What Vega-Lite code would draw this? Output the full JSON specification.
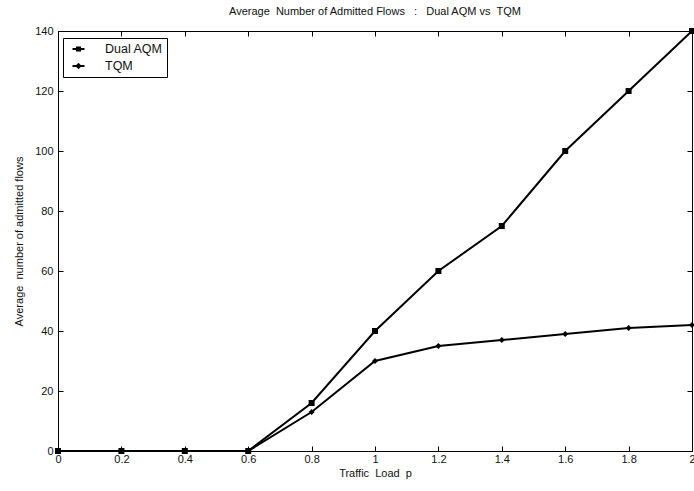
{
  "$schema": "https://vega.github.io/schema/vega-lite/v6.json",
  "width": 634,
  "height": 420,
  "autosize": {"type": "none"},
  "padding": {"left": 58, "top": 31, "right": 2, "bottom": 40},
  "background": "white",
  "title": {
    "text": "Average\u00a0\u00a0Number of Admitted Flows\u00a0\u00a0\u00a0:\u00a0\u00a0\u00a0Dual AQM vs\u00a0\u00a0TQM",
    "font": "Liberation Sans",
    "fontSize": 11,
    "fontWeight": "normal",
    "color": "#111",
    "offset": 8,
    "anchor": "middle"
  },
  "config": {
    "view": {"stroke": "black", "strokeWidth": 1},
    "axis": {
      "grid": false,
      "domain": false,
      "ticks": true,
      "tickColor": "black",
      "tickSize": -5,
      "labelFont": "Liberation Sans",
      "labelFontSize": 11,
      "labelColor": "#111",
      "titleFont": "Liberation Sans",
      "titleFontSize": 11,
      "titleFontWeight": "normal",
      "titleColor": "#111"
    }
  },
  "data": {
    "values": [
      {"p": 0, "value": 0, "series": "Dual AQM"},
      {"p": 0.2, "value": 0, "series": "Dual AQM"},
      {"p": 0.4, "value": 0, "series": "Dual AQM"},
      {"p": 0.6, "value": 0, "series": "Dual AQM"},
      {"p": 0.8, "value": 16, "series": "Dual AQM"},
      {"p": 1.0, "value": 40, "series": "Dual AQM"},
      {"p": 1.2, "value": 60, "series": "Dual AQM"},
      {"p": 1.4, "value": 75, "series": "Dual AQM"},
      {"p": 1.6, "value": 100, "series": "Dual AQM"},
      {"p": 1.8, "value": 120, "series": "Dual AQM"},
      {"p": 2.0, "value": 140, "series": "Dual AQM"},
      {"p": 0, "value": 0, "series": "TQM"},
      {"p": 0.2, "value": 0, "series": "TQM"},
      {"p": 0.4, "value": 0, "series": "TQM"},
      {"p": 0.6, "value": 0, "series": "TQM"},
      {"p": 0.8, "value": 13, "series": "TQM"},
      {"p": 1.0, "value": 30, "series": "TQM"},
      {"p": 1.2, "value": 35, "series": "TQM"},
      {"p": 1.4, "value": 37, "series": "TQM"},
      {"p": 1.6, "value": 39, "series": "TQM"},
      {"p": 1.8, "value": 41, "series": "TQM"},
      {"p": 2.0, "value": 42, "series": "TQM"}
    ]
  },
  "resolve": {"axis": {"x": "independent", "y": "independent"}, "scale": {"shape": "independent"}},
  "layer": [
    {
      "mark": {"type": "line", "color": "black", "strokeWidth": 2, "clip": false},
      "encoding": {
        "x": {
          "field": "p", "type": "quantitative",
          "scale": {"domain": [0, 2], "nice": false},
          "axis": {"values": [0, 0.2, 0.4, 0.6, 0.8, 1, 1.2, 1.4, 1.6, 1.8, 2], "format": "~g", "title": "Traffic\u00a0\u00a0Load\u00a0\u00a0p", "labelPadding": 7, "titlePadding": 3, "labelFlush": false, "labelOverlap": false}
        },
        "y": {
          "field": "value", "type": "quantitative",
          "scale": {"domain": [0, 140], "nice": false},
          "axis": {"values": [0, 20, 40, 60, 80, 100, 120, 140], "title": "Average\u00a0\u00a0number of admitted flows", "labelPadding": 10, "titlePadding": 10, "labelFlush": false}
        },
        "detail": {"field": "series"}
      }
    },
    {
      "mark": {"type": "point", "filled": true, "color": "black", "opacity": 1, "size": 36, "clip": false},
      "encoding": {
        "x": {
          "field": "p", "type": "quantitative",
          "axis": {"orient": "top", "values": [0, 0.2, 0.4, 0.6, 0.8, 1, 1.2, 1.4, 1.6, 1.8, 2], "labels": false, "title": null}
        },
        "y": {
          "field": "value", "type": "quantitative",
          "axis": {"orient": "right", "values": [0, 20, 40, 60, 80, 100, 120, 140], "labels": false, "title": null}
        },
        "shape": {
          "field": "series", "type": "nominal",
          "scale": {"domain": ["Dual AQM", "TQM"], "range": ["square", "diamond"]},
          "legend": null
        }
      }
    },
    {
      "transform": [{"filter": "datum.p < 0"}],
      "mark": {"type": "point", "filled": false, "color": "black", "opacity": 1},
      "encoding": {
        "x": {"field": "p", "type": "quantitative", "axis": null},
        "y": {"field": "value", "type": "quantitative", "axis": null},
        "shape": {
          "field": "series", "type": "nominal",
          "scale": {"domain": ["Dual AQM", "TQM"], "range": ["M-0.25,0H1.75M0.5,-0.25H1V0.25H0.5Z", "M-0.25,0H1.75M0.75,-0.3L1.05,0L0.75,0.3L0.45,0Z"]},
          "legend": {
            "title": null,
            "orient": "none",
            "legendX": 5,
            "legendY": 7,
            "strokeColor": "black",
            "fillColor": "white",
            "padding": 4,
            "labelFont": "Liberation Sans",
            "labelFontSize": 12.5,
            "labelColor": "#111",
            "labelOffset": 24,
            "symbolSize": 144,
            "symbolStrokeWidth": 2,
            "symbolStrokeColor": "black",
            "symbolFillColor": "black",
            "symbolOpacity": 1,
            "rowPadding": 3,
            "labelLimit": 200,
            "encode": {
              "legend": {
                "update": {"width": {"value": 114}}
              }
            }
          }
        }
      }
    }
  ]
}
